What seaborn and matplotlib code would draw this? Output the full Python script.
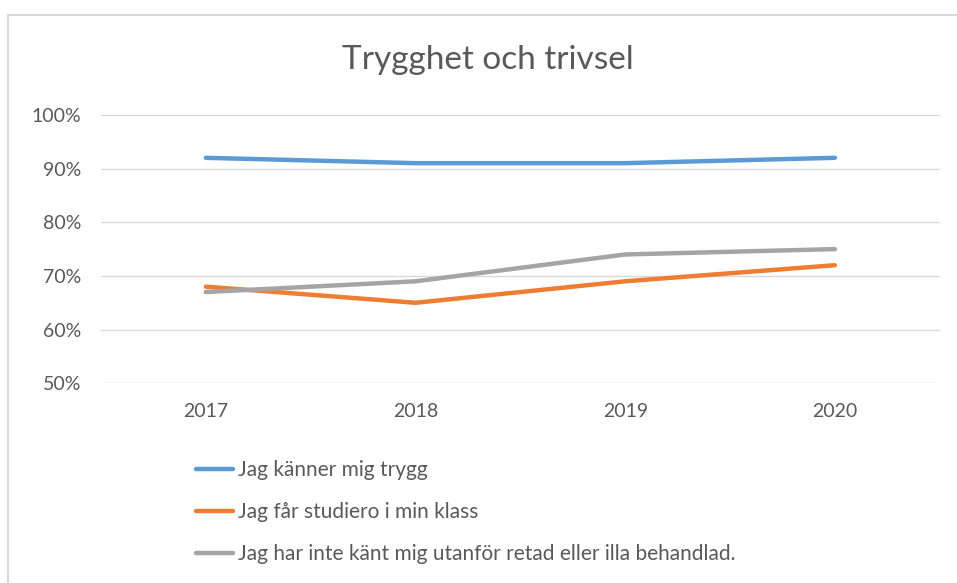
import matplotlib.pyplot as plt
import matplotlib.ticker as mticker
import matplotlib.patches as mpatches
import numpy as np
import seaborn as sns
import pandas as pd

# ---- data ----
years = ["2017", "2018", "2019", "2020"]
trygg = [0.92, 0.91, 0.91, 0.92]
studiero = [0.68, 0.65, 0.69, 0.72]
utanfor = [0.67, 0.69, 0.74, 0.75]
series_names = [
    "Jag känner mig trygg",
    "Jag får studiero i min klass",
    "Jag har inte känt mig utanför retad eller illa behandlad.",
]
colors = ["#5B9BD5", "#ED7D31", "#A5A5A5"]

df = pd.DataFrame({
    "year": years * 3,
    "value": trygg + studiero + utanfor,
    "series": np.repeat(series_names, len(years)),
})

sns.set_style("white")
plt.rcParams["font.family"] = ["Lato", "DejaVu Sans"]

fig = plt.figure(figsize=(9.57, 5.83), dpi=100)
ax = fig.add_axes([0.1055, 0.3425, 0.8765, 0.4605])

sns.lineplot(data=df, x="year", y="value", hue="series", palette=colors,
             linewidth=3.2, sort=False, ax=ax, legend=False,
             solid_capstyle="round")

ax.set_xlim(-0.5, 3.5)
ax.set_ylim(0.5, 1.0)
ax.yaxis.set_major_locator(mticker.MultipleLocator(0.1))
ax.yaxis.set_major_formatter(mticker.PercentFormatter(1.0, decimals=0))
ax.grid(axis="y", color="#D9D9D9", linewidth=1)
ax.set_axisbelow(True)
for s in ax.spines.values():
    s.set_visible(False)
ax.tick_params(axis="both", length=0, labelsize=14, colors="#595959")
ax.tick_params(axis="y", pad=14)
ax.tick_params(axis="x", pad=14)
ax.set_xlabel("")
ax.set_ylabel("")

fig.text(0.51, 0.897, "Trygghet och trivsel", ha="center", va="center",
         fontsize=24, color="#595959")

# legend below, stacked vertically
handles = [plt.Line2D([], [], color=c, linewidth=3.2, solid_capstyle="round")
           for c in colors]
fig.legend(handles, series_names, loc="upper left",
           bbox_to_anchor=(0.196, 0.225), frameon=False, fontsize=15,
           labelcolor="#595959", handlelength=1.8, handletextpad=0.2,
           labelspacing=1.05, borderaxespad=0)

# chart frame like the spreadsheet chart area (left and top edges visible)
fig.patches.append(mpatches.Rectangle((0.0084, -0.1), 1.2, 1.074,
                                      transform=fig.transFigure, fill=False,
                                      edgecolor="#D9D9D9", linewidth=1.5))

plt.savefig("out.png", dpi=100)
